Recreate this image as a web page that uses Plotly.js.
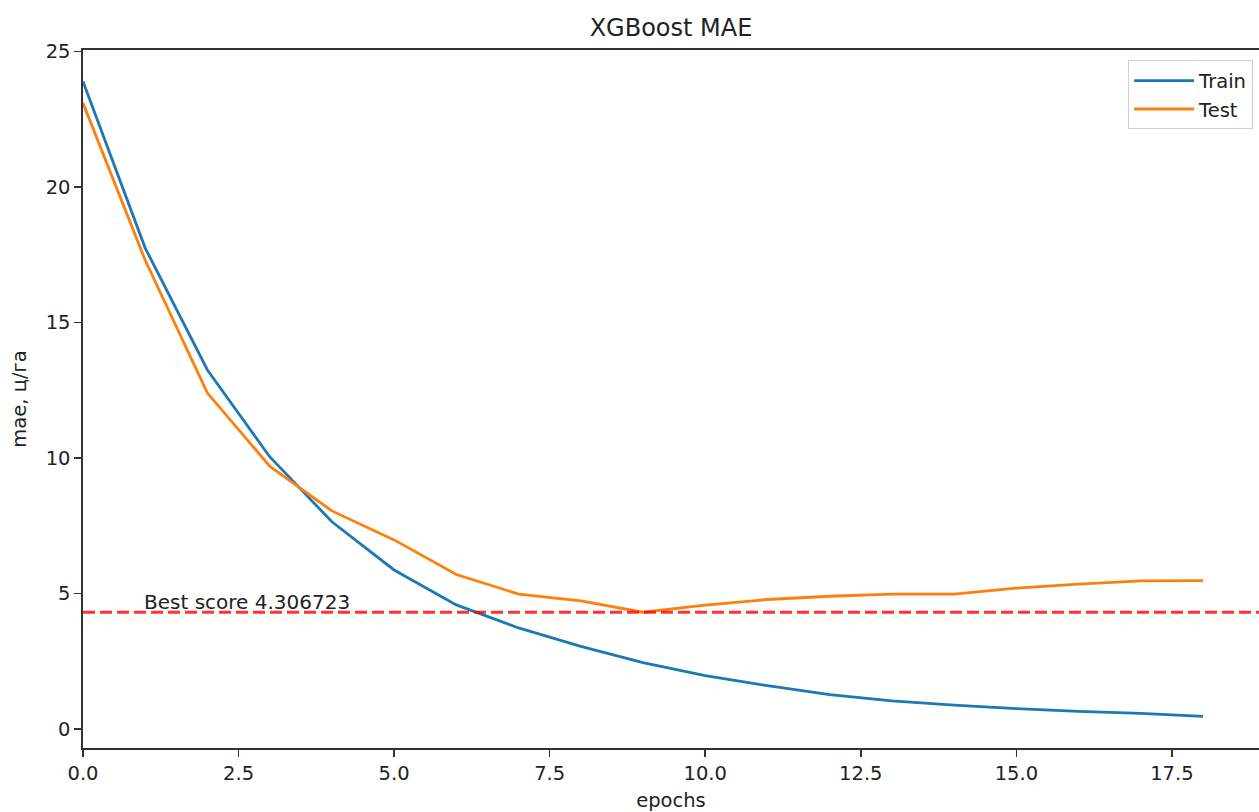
<!DOCTYPE html>
<html>
<head>
<meta charset="utf-8">
<script src="https://cdn.plot.ly/plotly-3.0.1.min.js"></script>
<style>html,body{margin:0;padding:0;background:#fff;}#chart{width:1259px;height:812px;}</style>
</head>
<body>
<div id="chart"></div>
<script>
const epochs = [0,1,2,3,4,5,6,7,8,9,10,11,12,13,14,15,16,17,18];
const trainMae = [23.9,17.75,13.25,10.05,7.65,5.87,4.58,3.73,3.05,2.45,1.97,1.6,1.27,1.04,0.88,0.75,0.65,0.58,0.47];
const testMae = [23.1,17.3,12.4,9.7,8.05,6.98,5.7,4.98,4.73,4.31,4.57,4.78,4.9,4.98,4.98,5.2,5.35,5.47,5.48];
const bestScore = 4.306723;
const bestLabelX = 1;
const xTicks = [0,2.5,5,7.5,10,12.5,15,17.5];
const yTicks = [0,5,10,15,20,25];

const font = {family: 'DejaVu Sans, sans-serif', size: 19.5, color: '#222'};

const traces = [
  {x: epochs, y: trainMae, name: 'Train', mode: 'lines', line: {color: '#1f77b4', width: 2.8}},
  {x: epochs, y: testMae, name: 'Test', mode: 'lines', line: {color: '#ff7f0e', width: 2.8}}
];

const layout = {
  width: 1259, height: 812,
  margin: {l: 83, r: 0, t: 50, b: 64},
  paper_bgcolor: '#fff', plot_bgcolor: '#fff',
  font: font,
  title: {text: 'XGBoost MAE', font: {family: 'DejaVu Sans, sans-serif', size: 24, color: '#222'},
          xref: 'paper', x: 0.5, xanchor: 'center', yref: 'container', y: (812 - 28) / 812, yanchor: 'middle'},
  xaxis: {
    range: [0, 18.9], tickvals: xTicks, ticktext: xTicks.map(v => v.toFixed(1)),
    showgrid: false, zeroline: false, showline: true, linecolor: '#333', linewidth: 1.6, mirror: true,
    ticks: 'outside', ticklen: 7, tickwidth: 1.5, tickcolor: '#333', tickfont: font,
    title: {text: 'epochs', font: font, standoff: 10}
  },
  yaxis: {
    range: [-0.70, 25.06], tickvals: yTicks, ticktext: yTicks.map(String),
    showgrid: false, zeroline: false, showline: true, linecolor: '#333', linewidth: 1.6,
    ticks: 'outside', ticklen: 7, tickwidth: 1.5, tickcolor: '#333', tickfont: font,
    title: {text: 'mae, ц/га', font: font, standoff: 14}
  },
  legend: {
    x: 0.995, xanchor: 'right', y: 0.985, yanchor: 'top',
    bgcolor: 'rgba(255,255,255,0.8)', bordercolor: '#d0d0d0', borderwidth: 1,
    font: font, tracegroupgap: 0, itemwidth: 60
  },
  shapes: [{
    type: 'line', xref: 'paper', x0: 0, x1: 1, yref: 'y', y0: bestScore, y1: bestScore,
    line: {color: 'rgba(255,0,0,0.8)', width: 3, dash: '12px,5px'}
  }],
  annotations: [{
    x: bestLabelX, y: bestScore, xref: 'x', yref: 'y', xanchor: 'left', yanchor: 'bottom',
    text: 'Best score ' + bestScore.toFixed(6), showarrow: false,
    font: {family: 'DejaVu Sans, sans-serif', size: 20, color: '#222'}, xshift: -3, yshift: -4
  }]
};

Plotly.newPlot('chart', traces, layout, {displayModeBar: false, staticPlot: true});
</script>
</body>
</html>
